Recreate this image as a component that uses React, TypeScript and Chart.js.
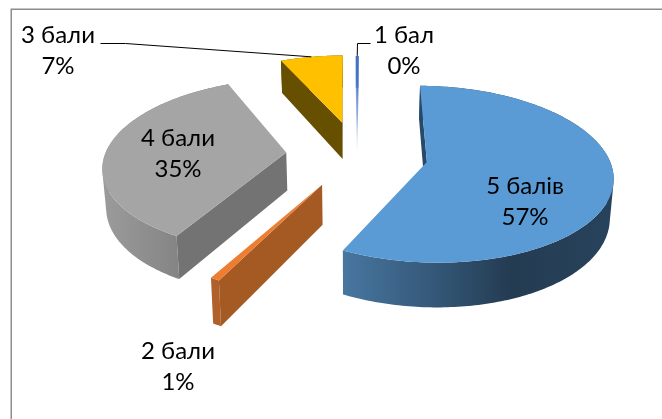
import { useEffect, useRef } from "react";
import { Chart, registerables } from "chart.js";

Chart.register(...registerables);

const categories = ["5 балів", "2 бали", "4 бали", "3 бали", "1 бал"];
const values = [57.3, 0.7, 35.2, 6.6, 0.3];
const topColors = ["#5b9bd5", "#ed7d31", "#a5a5a5", "#ffc000", "#4472c4"];
const explode = [71, 71, 71, 72, 69];

// Where each caption sits, and where a leader line starts (null: caption sits on the slice).
const captionCentres = [
  [525, 186],
  [178, 351],
  [178, 138],
  [58, 35],
  [404, 35],
];
const leaderStarts = [null, null, null, [[100, 43], [125, 43]], [[370, 43], [357, 43]]];

// Ground plane to screen: a tilted camera with a little perspective.
const view = { cx: 357, cy: 154, radius: 181, tilt: 0.467, persp: 0.00076, depth: 38, narrow: 0.015 };

type Pt = [number, number];

function project(x: number, y: number, z: number): Pt {
  const s = 1 / (1 - view.persp * y);
  return [
    view.cx + x * s * (1 - view.narrow * z),
    view.cy + view.tilt * y * s + z * view.depth * s,
  ];
}

function addLoop(ctx: CanvasRenderingContext2D, pts: Pt[]) {
  pts.forEach((p, i) => (i ? ctx.lineTo(p[0], p[1]) : ctx.moveTo(p[0], p[1])));
  ctx.closePath();
}

function trace(ctx: CanvasRenderingContext2D, pts: Pt[]) {
  ctx.beginPath();
  addLoop(ctx, pts);
}

function signedArea(pts: Pt[]) {
  let sum = 0;
  pts.forEach((p, i) => {
    const q = pts[(i + 1) % pts.length];
    sum += p[0] * q[1] - q[0] * p[1];
  });
  return sum;
}

function horizontal(ctx: CanvasRenderingContext2D, stops: [number, string][]) {
  const g = ctx.createLinearGradient(0, 0, 662, 0);
  stops.forEach(([x, c]) => g.addColorStop(x / 662, c));
  return g;
}

function fade(ctx: CanvasRenderingContext2D, yTop: number, yBottom: number) {
  const g = ctx.createLinearGradient(0, yTop, 0, yBottom);
  g.addColorStop(0, "#4472c4");
  g.addColorStop(0.6, "#9db4dc");
  g.addColorStop(1, "#ffffff");
  return g;
}

function rimFill(ctx: CanvasRenderingContext2D, i: number, yTop: number, yBottom: number) {
  if (i === 0) {
    return horizontal(ctx, [
      [345, "#47769f"],
      [430, "#35597a"],
      [510, "#243c52"],
      [620, "#27435c"],
    ]);
  }
  if (i === 2) {
    return horizontal(ctx, [
      [100, "#9c9c9c"],
      [180, "#848484"],
    ]);
  }
  if (i === 4) return fade(ctx, yTop, yBottom);
  return ["", "#b0602a", "", "#665000"][i];
}

function wallFill(ctx: CanvasRenderingContext2D, i: number, yTop: number, yBottom: number) {
  if (i === 4) return fade(ctx, yTop, yBottom);
  return ["#27496a", "#a65a23", "#737373", "#665000"][i];
}

type Slice = { a0: number; a1: number; ox: number; oy: number };

function sliceGeometry(el: any): Slice {
  const mid = (el.startAngle + el.endAngle) / 2;
  const d = el.options.offset;
  return { a0: el.startAngle, a1: el.endAngle, ox: d * Math.cos(mid), oy: d * Math.sin(mid) };
}

function rimPoint(s: Slice, a: number, z: number) {
  return project(s.ox + view.radius * Math.cos(a), s.oy + view.radius * Math.sin(a), z);
}

const pie3d = {
  id: "pie3d",
  beforeDatasetsDraw(chart: any) {
    const { ctx } = chart;
    const arcs = chart.getDatasetMeta(0).data;
    arcs.forEach((el: any, i: number) => {
      const s = sliceGeometry(el);
      const steps = Math.max(2, Math.ceil((s.a1 - s.a0) * 60));
      const top: Pt[] = [];
      const bottom: Pt[] = [];
      for (let k = 0; k <= steps; k++) {
        const a = s.a0 + ((s.a1 - s.a0) * k) / steps;
        top.push(rimPoint(s, a, 0));
        bottom.push(rimPoint(s, a, 1));
      }
      const apexTop = project(s.ox, s.oy, 0);
      const apexBottom = project(s.ox, s.oy, 1);
      const yTop = Math.min(...top.map((p) => p[1]));
      const yBottom = Math.max(apexBottom[1], ...bottom.map((p) => p[1]));

      // Far wall, only where it turns toward the camera.
      const last = top.length - 1;
      if (top[last][0] > apexTop[0]) {
        trace(ctx, [apexTop, top[last], bottom[last], apexBottom]);
        ctx.fillStyle = wallFill(ctx, i, yTop, yBottom);
        ctx.fill();
      }

      // Curved side: one path of strips, all wound alike, so it fills without seams or holes.
      ctx.beginPath();
      for (let k = 0; k < steps; k++) {
        const quad: Pt[] = [top[k], top[k + 1], bottom[k + 1], bottom[k]];
        addLoop(ctx, signedArea(quad) < 0 ? quad.reverse() : quad);
      }
      ctx.fillStyle = rimFill(ctx, i, yTop, yBottom);
      ctx.fill();

      if (top[0][0] < apexTop[0]) {
        trace(ctx, [apexTop, top[0], bottom[0], apexBottom]);
        ctx.fillStyle = wallFill(ctx, i, yTop, yBottom);
        ctx.fill();
      }

      trace(ctx, [apexTop, ...top]);
      ctx.fillStyle = el.options.backgroundColor;
      ctx.fill();
    });
    return false;
  },
  afterDraw(chart: any) {
    const { ctx } = chart;
    const arcs = chart.getDatasetMeta(0).data;
    const total = values.reduce((a, b) => a + b, 0);

    ctx.strokeStyle = "#8c8c8c";
    ctx.lineWidth = 1.5;
    ctx.strokeRect(11.25, 9.25, 800, 600);

    ctx.lineWidth = 1;
    ctx.fillStyle = "#000000";
    ctx.font = "24px Lato, 'Noto Sans', sans-serif";
    ctx.textAlign = "center";
    ctx.textBaseline = "middle";
    categories.forEach((name, i) => {
      const [x, y] = captionCentres[i];
      ctx.fillText(name, x, y);
      ctx.fillText(`${Math.round((values[i] / total) * 100)}%`, x, y + 31);
      const start = leaderStarts[i];
      if (start) {
        const s = sliceGeometry(arcs[i]);
        const end = rimPoint(s, (s.a0 + s.a1) / 2, 0);
        ctx.beginPath();
        ctx.moveTo(start[0][0] + 0.5, start[0][1] + 0.5);
        ctx.lineTo(start[1][0] + 0.5, start[1][1] + 0.5);
        ctx.lineTo(end[0], end[1]);
        ctx.strokeStyle = "#000000";
        ctx.stroke();
      }
    });
  },
};

export default function App() {
  const ref = useRef<HTMLCanvasElement>(null);
  useEffect(() => {
    document.body.style.margin = "0";
    const chart = new Chart(ref.current!, {
      type: "pie",
      data: {
        labels: categories,
        datasets: [{ data: values, backgroundColor: topColors, offset: explode, borderWidth: 0 }],
      },
      options: {
        responsive: false,
        animation: false,
        rotation: 0.6,
        events: [],
        plugins: { legend: { display: false }, tooltip: { enabled: false } },
      },
      plugins: [pie3d],
    });
    return () => chart.destroy();
  }, []);
  return <canvas ref={ref} width={662} height={419} style={{ display: "block" }} />;
}
